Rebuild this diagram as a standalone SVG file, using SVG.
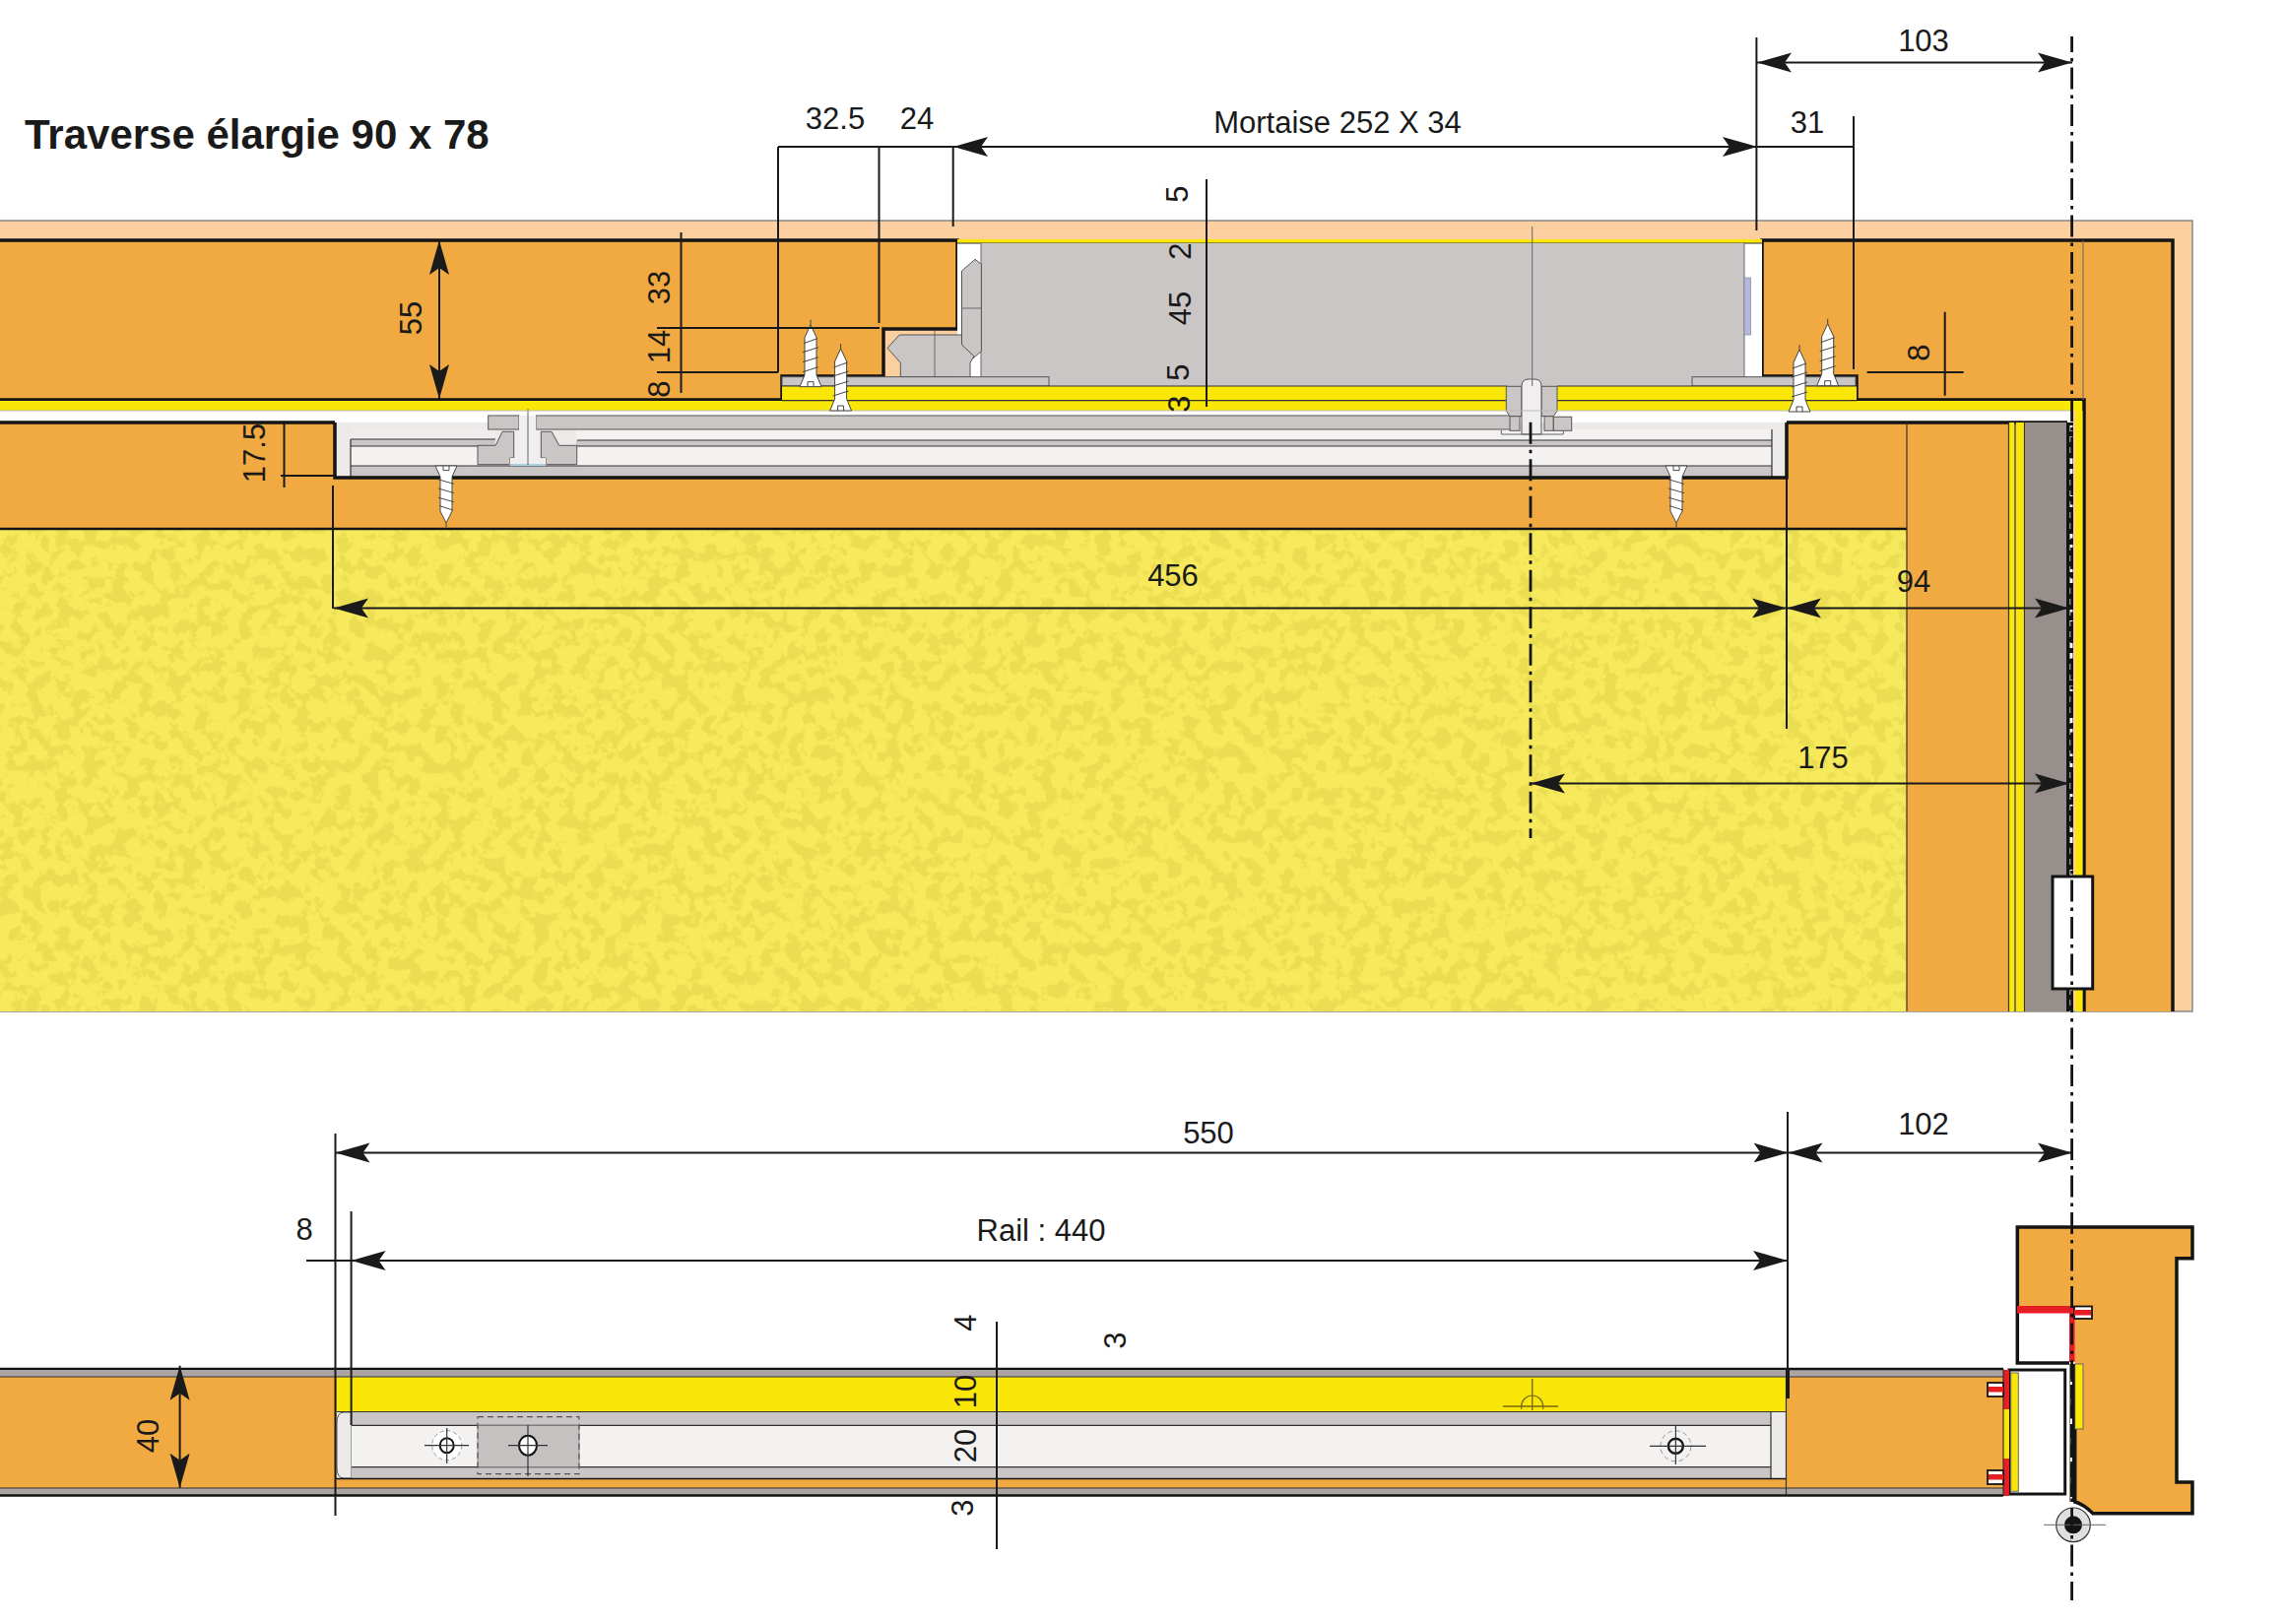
<svg xmlns="http://www.w3.org/2000/svg" width="2320" height="1649" viewBox="0 0 2320 1649">
<style>
.wood{fill:#F1A941}.yel{fill:#FBE707}.gr{fill:#CBC6C6}.gs{fill:#CBC6C6;stroke:#555;stroke-width:1}.band{fill:#ABA4A2}.lt{fill:#ECEAE9}.wh{fill:#F4F2F1}
.k3{fill:none;stroke:#141414;stroke-width:3.5}.k2{fill:none;stroke:#141414;stroke-width:2.4}.k1{fill:none;stroke:#333;stroke-width:1.2}.k0{fill:none;stroke:#666;stroke-width:1}
.d{fill:none;stroke:#1a1a1a;stroke-width:2}
.a{marker-start:url(#arr);marker-end:url(#arr)}
.cl{fill:none;stroke:#141414;stroke-width:2.8;stroke-dasharray:3.5 6 22 6}
text{font-family:"Liberation Sans",Arial,sans-serif;font-size:31px;fill:#1a1a1a;text-anchor:middle}
.title{font-size:42px;font-weight:bold;text-anchor:start}
</style>
<defs>
<marker id="arr" markerUnits="userSpaceOnUse" markerWidth="36" markerHeight="22" viewBox="0 0 36 22" refX="35" refY="11" orient="auto-start-reverse"><path d="M35 11L0 1L7 11L0 21Z" fill="#1a1a1a"/></marker>
<filter id="mottle" x="0" y="0" width="1" height="1" color-interpolation-filters="sRGB"><feTurbulence type="fractalNoise" baseFrequency="0.07" numOctaves="3" seed="7"/><feColorMatrix type="matrix" values="0 0 0 0 .92 0 0 0 0 .865 0 0 0 0 .32 9 0 0 0 -4.4"/></filter>
<g id="screw"><path d="M-11 0L-6 -12V-50L0 -63L6 -50V-12L11 0Z" fill="#fff" stroke="#444" stroke-width="1"/><path d="M0 -63V-68M-8 -15L8 -20M-8 -25L8 -30M-8 -35L8 -40M-7 -44L7 -49M-3 0V-5H3V0" fill="none" stroke="#444" stroke-width="1"/></g>
</defs>

<g id="top-section">
<rect x="-2" y="224" width="2228" height="803" fill="#FBCF9F" stroke="#888" stroke-width="1.5"/>
<path class="wood" d="M-2 244H972V334H897V382H794V406H-2Z"/>
<path class="k3" d="M-2 244H972V334H897V382H794V406H-2"/>
<path class="wood" d="M1789 244H2206V1027H2116V406H1885V382H1789Z"/>
<path class="k3" d="M1789 382V244H2206V1027M1789 382H1885V406H2116V1027"/>
<path class="k0" d="M2115 244V406"/>
<rect x="972" y="243" width="817" height="4" class="yel"/>
<rect x="972" y="247" width="817" height="136" fill="#fff"/>
<path d="M972 247H1789" class="k1"/>
<rect x="996" y="247" width="775" height="145" class="gr"/>
<path class="k0" d="M996 247V392M1771 247V392"/>
<rect x="1771" y="282" width="6.5" height="58" fill="#B4B8E0" stroke="#888" stroke-width=".7"/>
<path class="gs" d="M976.5 275L990 263.3L996.4 268.3V356.7L986.5 365L976.5 350Z"/>
<path class="gs" d="M913.3 340H976.5V350L989 361.7L985 368.3V382.7H914.3V368.3L901 353.3Z"/>
<path class="k0" d="M949 336V388M976 313H996"/>
<rect x="794" y="382.7" width="271" height="9.3" class="gs"/>
<rect x="1718" y="382.7" width="166" height="9.3" class="gs"/>

<path class="yel" d="M794 392H1530V417H-2V407H794Z"/>
<path class="yel" d="M1581 392H1885V407H2114V417H1581Z"/>
<path class="k1" d="M794 406.7H1530M1581 406.7H1885M794 392H1530M1581 392H1885"/>

<rect x="-2" y="417" width="2105" height="12" fill="#fff"/>
<rect x="-2" y="429" width="342" height="108" class="wood"/>
<rect x="340" y="485" width="1474" height="52" class="wood"/>
<rect x="1814" y="429" width="226" height="108" class="wood"/>
<rect x="1936" y="537" width="104" height="490" class="wood"/>
<rect x="340" y="429" width="1474" height="56" class="lt"/>

<g id="rail-section">
<rect x="356" y="436" width="147" height="10" fill="#EFECEB"/>
<rect x="356" y="446" width="147" height="7" class="gr"/>
<rect x="356" y="453" width="129" height="20" class="wh"/>
<rect x="585" y="436" width="1214" height="11" class="wh"/>
<rect x="585" y="447" width="1214" height="6" class="gr"/>
<rect x="585" y="453" width="1214" height="20" class="wh"/>
<rect x="356" y="473" width="1443" height="11" class="gr"/>
<path class="k1" d="M356 446H503M356 453H485M356 446V484M586 453H1799M356 473H1799M1799 436V484M586 447H1799"/>
<rect x="495.7" y="422" width="31.3" height="14" class="gs"/>
<rect x="544.3" y="422" width="990" height="14" class="gs"/>
<rect x="527" y="422" width="17.3" height="16.3" fill="#F0EEEE"/>
<rect x="521.7" y="438" width="27.6" height="27" fill="#F0EEEE"/>
<path class="gs" d="M485 452.3H503.3L510 438.3H521.7V465H517.7V471.7H485Z"/>
<path class="gs" d="M549.3 438.3H560L567.7 452.3H585.7V471.7H554.3V465H549.3Z"/>
<rect x="517.7" y="465" width="36.6" height="7" fill="#F0EEEE"/>
<rect x="518" y="471" width="36" height="2" fill="#A8D0E0"/>
<path class="k0" d="M536 415V472"/>
</g>

<g id="nut">
<path class="gs" d="M1529.3 392.3H1545V422.7H1533L1529.3 417.3Z"/>
<path class="gs" d="M1565 392.3H1581V417.3L1577.3 422.7H1565Z"/>
<path d="M1545 441V392Q1545 385 1552 385H1558Q1565 385 1565 392V441Z" fill="#F0EEEE" stroke="#555" stroke-width="1"/>
<rect x="1533" y="422.7" width="10" height="14.6" class="gs"/>
<rect x="1568" y="422.7" width="9.3" height="14.6" class="gs"/>
<rect x="1577.3" y="423.3" width="18.4" height="14" class="gs"/>
<path class="k0" d="M1524.3 437V441H1587.3V437M1555.7 230V392"/>
</g>

<path class="k3" d="M340 429V485H1814V429M-2 429H340M1814 429H2099"/>
<path d="M-2 417H2103" style="stroke:#bbb;stroke-width:1;fill:none"/>
<rect x="-2" y="537" width="1938" height="490" fill="#F6E95B"/>
<rect x="-2" y="538" width="1938" height="489" filter="url(#mottle)"/>
<path class="k2" d="M-2 537H1936"/>
<path class="k1" d="M1936 429V1027"/>

<rect x="2040" y="429" width="5" height="598" class="yel"/>
<rect x="2046.7" y="429" width="8.3" height="598" class="yel"/>
<path class="k1" d="M2039.5 429V1027M2046 429V1027M2055.5 429V1027"/>
<rect x="2056" y="429" width="42" height="598" fill="#978F8B"/>
<rect x="2098" y="429" width="7" height="598" fill="#141414"/>
<path d="M2103 432V1027" stroke="#fff" stroke-width="3" stroke-dasharray="6 5" fill="none"/>
<rect x="2107" y="417" width="7.5" height="610" class="yel"/>
<rect x="2084" y="890" width="40.7" height="114" fill="#fff" stroke="#141414" stroke-width="3"/>

<use href="#screw" transform="translate(823 392.7)"/>
<use href="#screw" transform="translate(853.6 417)"/>
<use href="#screw" transform="translate(1827 418)"/>
<use href="#screw" transform="translate(1855.7 391.7)"/>
<use href="#screw" transform="translate(453 473) scale(1 -.92)"/>
<use href="#screw" transform="translate(1702 473) scale(1 -.92)"/>
</g>

<g id="bottom-section">
<path class="k2" d="M-2 1390H1815"/>
<rect x="-2" y="1391" width="2036" height="7" class="band"/>
<rect x="-2" y="1398" width="2036" height="113" class="wood"/>
<rect x="342" y="1398" width="1471" height="35.3" class="yel"/>
<rect x="342" y="1433.5" width="1471" height="68" class="lt"/>
<path d="M357 1434H349Q342 1434 342 1445V1490Q342 1501 349 1501H357Z" fill="#ECEAE9" stroke="#555" stroke-width="1"/>
<rect x="357" y="1433.7" width="1441" height="13.6" class="gr"/>
<rect x="357" y="1447.3" width="1441" height="42.4" class="wh"/>
<rect x="357" y="1489.7" width="1441" height="11.6" class="gr"/>
<path class="k1" d="M342 1433.5H1813M357 1447.3H1798M357 1489.7H1798M1798 1433.5V1501.3"/>
<path class="k2" d="M340 1501.5H1813" style="stroke-width:1.6"/>
<rect x="485" y="1447.3" width="103" height="42.4" fill="#C6C1C1" stroke="#777" stroke-width=".8"/>
<rect x="485" y="1438.7" width="103" height="58" fill="none" stroke="#555" stroke-width="1.2" stroke-dasharray="6 4"/>
<rect x="-2" y="1511" width="2036" height="7" class="band"/>
<path class="k1" d="M-2 1398H2034M-2 1511H2034"/>
<path class="k2" d="M-2 1518.5H2034M1815 1390H2034"/>
<path class="k1" d="M1813.5 1398V1518"/>

<g id="holes">
<circle cx="453.7" cy="1467.7" r="15" fill="#fff" stroke="#999" stroke-width="1" stroke-dasharray="4 3"/>
<ellipse cx="453.7" cy="1467.7" rx="7" ry="7.5" fill="none" stroke="#141414" stroke-width="2"/>
<path class="k1" d="M431 1467.7H476M453.7 1450V1486"/>
<ellipse cx="536" cy="1467.7" rx="9" ry="10" fill="#fff" stroke="#141414" stroke-width="2"/>
<path class="k1" d="M516 1467.7H556M536 1447V1499"/>
<circle cx="1701.4" cy="1468.3" r="15.5" fill="none" stroke="#999" stroke-width="1" stroke-dasharray="5 3"/>
<circle cx="1701.4" cy="1468.3" r="7.5" fill="none" stroke="#141414" stroke-width="2.4"/>
<path class="k1" d="M1675 1468.3H1732M1701.4 1448V1487"/>
<path d="M1544.7 1431V1428A11 11 0 0 1 1566.7 1428V1431" fill="none" stroke="#7a6a10" stroke-width="1.2"/>
<path d="M1526 1428H1582M1555.7 1400V1432" fill="none" stroke="#7a6a10" stroke-width="1.4"/>
</g>

<g id="jamb">
<path class="wood" d="M2048.3 1246H2226V1277.7H2210V1505H2226V1536.7H2125Q2115 1527 2106.7 1525V1326H2048.3Z"/>
<path class="k3" d="M2048.3 1326V1246H2226V1277.7H2210V1505H2226V1536.7H2125Q2115 1527 2106.7 1525V1385"/>
<rect x="2049" y="1333" width="52" height="50" fill="#fff"/>
<path class="k3" d="M2048.3 1326V1384H2101"/>
<rect x="2048" y="1326" width="58" height="7.5" fill="#E71D24"/>
<rect x="2101" y="1332" width="5.7" height="51" fill="#E71D24"/>
<rect x="2106" y="1326.5" width="18" height="12.5" fill="#fff" stroke="#141414" stroke-width="1.8"/>
<rect x="2106" y="1330" width="17" height="5.5" fill="#E71D24"/>
<rect x="2106.7" y="1385" width="8.3" height="66" class="yel" stroke="#666" stroke-width="1"/>
<rect x="2040" y="1391" width="56.7" height="126" fill="#fff" stroke="#141414" stroke-width="3"/>
<rect x="2034" y="1391" width="6" height="40" fill="#E71D24"/>
<rect x="2034" y="1431" width="6" height="50" class="yel"/>
<rect x="2034" y="1481" width="6" height="38" fill="#E71D24"/>
<path class="k1" d="M2034 1390V1519"/>
<rect x="2041.7" y="1394" width="7.6" height="120.3" class="yel" stroke="#666" stroke-width="1"/>
<rect x="2018" y="1404" width="16" height="14" fill="#fff" stroke="#141414" stroke-width="1.8"/>
<rect x="2019" y="1408" width="15" height="5.5" fill="#E71D24"/>
<rect x="2018" y="1493" width="16" height="14" fill="#fff" stroke="#141414" stroke-width="1.8"/>
<rect x="2019" y="1497" width="15" height="5.5" fill="#E71D24"/>
<path d="M2104 1385V1525" stroke="#141414" stroke-width="5" fill="none"/>
<path d="M2103 1400V1525" stroke="#fff" stroke-width="2" stroke-dasharray="6 14" fill="none"/>
<circle cx="2105" cy="1548.3" r="17.3" fill="#E1DEDE" stroke="#333" stroke-width="1.2"/>
<circle cx="2105" cy="1548.3" r="9" fill="#141414"/>
<path class="k0" d="M2075 1548.3H2138"/>
</g>
</g>

<g id="connectors">
<path class="d a" d="M446 244V405"/>
<path class="d" d="M691.5 236V399M667 333H893M667 378H790M288.5 430V495M285 483H340M338 493V618M790 149V378M892.5 149V328M967.7 149V230M1225 182V413M1783.4 38V234M1882 118V375M1895.6 378H1993.7M1974.7 316.7V401.7M1814 485V740M1784 149H1882"/>
<path class="d a" d="M1784 63.5H2104"/>
<path class="d a" d="M968 149H1784"/>
<path class="d" d="M790 149H968"/>
<path class="d a" d="M339 617.5H1814"/>
<path class="d a" d="M1814 617.5H2101"/>
<path class="d a" d="M1554 795.5H2101"/>
<path class="d a" d="M340.5 1170.5H1815.5"/>
<path class="d a" d="M1815.5 1170.5H2104"/>
<path class="d a" d="M356.6 1280H1815"/>
<path class="d a" d="M182.6 1386.7V1510.7"/>
<path class="d" d="M340.5 1151V1539M1815 1129V1390M356.6 1230V1447M311 1280H357M1012 1342V1573"/>
<path d="M1815 1390V1420" stroke="#1a1a1a" stroke-width="4" fill="none"/>
<path class="cl" d="M2103.6 37V1625" stroke-dashoffset="15.4"/>
<path class="cl" d="M1554 428V851" stroke-dashoffset="8.8"/>
</g>

<g id="labels">
<text class="title" x="25" y="151">Traverse élargie 90 x 78</text>
<text x="1953" y="52">103</text>
<text x="848" y="131">32.5</text>
<text x="931" y="131">24</text>
<text x="1358" y="135">Mortaise 252 X 34</text>
<text x="1835" y="135">31</text>
<text x="1191" y="595">456</text>
<text x="1943" y="601">94</text>
<text x="1851" y="780">175</text>
<text x="1227" y="1161">550</text>
<text x="1953" y="1152">102</text>
<text x="309" y="1259">8</text>
<text x="1057" y="1260">Rail : 440</text>
<text transform="translate(417 323) rotate(-90)" y="11">55</text>
<text transform="translate(669 292) rotate(-90)" y="11">33</text>
<text transform="translate(669 352) rotate(-90)" y="11">14</text>
<text transform="translate(669 395) rotate(-90)" y="11">8</text>
<text transform="translate(258 460) rotate(-90)" y="11">17.5</text>
<text transform="translate(1195 197) rotate(-90)" y="11">5</text>
<text transform="translate(1198 255) rotate(-90)" y="11">2</text>
<text transform="translate(1198 313) rotate(-90)" y="11">45</text>
<text transform="translate(1196 378) rotate(-90)" y="11">5</text>
<text transform="translate(1197 410) rotate(-90)" y="11">3</text>
<text transform="translate(1948 358) rotate(-90)" y="11">8</text>
<text transform="translate(980 1343) rotate(-90)" y="11">4</text>
<text transform="translate(1132 1361) rotate(-90)" y="11">3</text>
<text transform="translate(980 1413) rotate(-90)" y="11">10</text>
<text transform="translate(980 1468) rotate(-90)" y="11">20</text>
<text transform="translate(977 1531) rotate(-90)" y="11">3</text>
<text transform="translate(149.5 1458) rotate(-90)" y="11">40</text>
</g>
</svg>
